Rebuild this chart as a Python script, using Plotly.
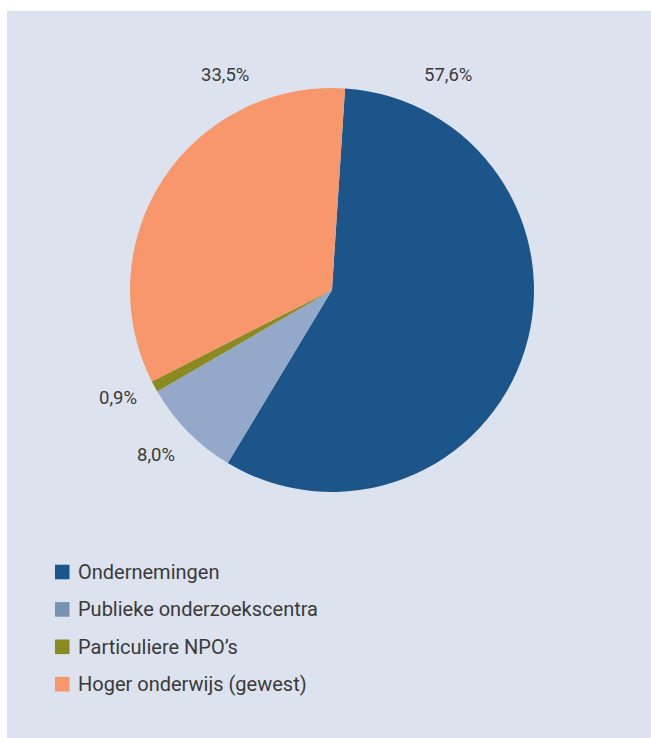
import plotly.graph_objects as go

# === Daten ===
labels = ["Ondernemingen", "Publieke onderzoekscentra", "Particuliere NPO’s", "Hoger onderwijs (gewest)"]
values = [57.6, 8.0, 0.9, 33.5]
slice_colors = ["#1b558a", "#94a8c9", "#8a8a20", "#f7976b"]
legend_colors = ["#1b558a", "#7891b0", "#8a8a20", "#f7976b"]

W, H = 651, 738
FONT = "Roboto"
TXT = "#3a3a3a"


def px(x):
    return x / W


def py(y):
    return 1 - y / H


# Label-Positionen (Pixel) der Prozentwerte
label_pos = [(448, 75), (156, 455), (118, 398), (225, 75)]

fig = go.Figure()

cx, cy0, r = 332, 290, 202
fig.add_trace(go.Pie(
    labels=labels,
    values=values,
    sort=False,
    direction="clockwise",
    rotation=3.7,
    marker=dict(colors=slice_colors, line=dict(width=0)),
    textinfo="none",
    hoverinfo="label+percent",
    showlegend=False,
    domain=dict(x=[px(cx - r), px(cx + r)], y=[py(cy0 + r), py(cy0 - r)]),
))

annotations = []
for v, (lx, ly) in zip(values, label_pos):
    annotations.append(dict(
        x=px(lx), y=py(ly), xref="paper", yref="paper",
        text=f"{v:.1f}".replace(".", ",") + "%",
        showarrow=False, xanchor="center", yanchor="middle",
        font=dict(family=FONT, size=18.5, color=TXT),
    ))

# === Hintergrund + Legende (manuell) ===
shapes = [dict(type="rect", xref="paper", yref="paper",
               x0=px(7), x1=1, y0=0, y1=py(11),
               fillcolor="#dce3ee", line=dict(width=0), layer="below")]
for i, (lab, col) in enumerate(zip(labels, legend_colors)):
    ry = 572 + i * 37.4
    shapes.append(dict(type="rect", xref="paper", yref="paper",
                       x0=px(55), x1=px(69.5), y0=py(ry + 7.3), y1=py(ry - 7.3),
                       fillcolor=col, line=dict(width=0)))
    annotations.append(dict(
        x=px(76), y=py(ry), xref="paper", yref="paper",
        text=lab, showarrow=False, xanchor="left", yanchor="middle",
        font=dict(family=FONT, size=20, color=TXT),
    ))

fig.update_layout(
    width=W, height=H,
    margin=dict(l=0, r=0, t=0, b=0),
    paper_bgcolor="white",
    plot_bgcolor="white",
    shapes=shapes,
    annotations=annotations,
    showlegend=False,
)

# body-Rand entfernen, damit die Figur genau das Fenster füllt
fig.write_html("out.html", config={"displayModeBar": False},
               post_script="document.body.style.margin='0';")
